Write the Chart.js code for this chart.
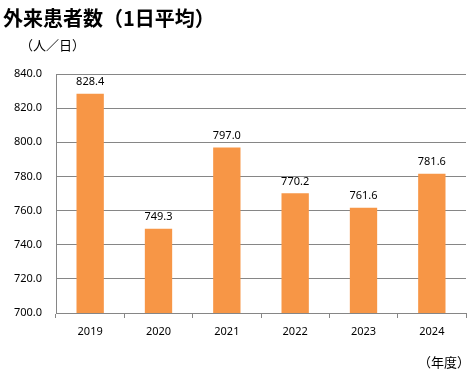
<!DOCTYPE html>
<html>
<head>
<meta charset="utf-8">
<script src="https://cdn.jsdelivr.net/npm/chart.js@4"></script>
<style>
  body { margin: 0; background: #fff; }
  #wrap { position: relative; width: 474px; height: 378px; }
  #titulo { position: absolute; left: 3px; top: 3px; font: bold 20px "Noto Sans CJK JP", sans-serif; color: #000; }
  #unidad { position: absolute; left: 20px; top: 35px; font: 13px "Noto Sans CJK JP", sans-serif; color: #000; }
  #anio { position: absolute; left: 418px; top: 352px; font: 13px "Noto Sans CJK JP", sans-serif; color: #000; }
</style>
</head>
<body>
<div id="wrap">
  <canvas id="grafico" width="474" height="378"></canvas>
  <div id="titulo">外来患者数（1日平均）</div>
  <div id="unidad">（人／日）</div>
  <div id="anio">（年度）</div>
</div>
<script>
const anios = ['2019', '2020', '2021', '2022', '2023', '2024'];
const pacientes = [828.4, 749.3, 797.0, 770.2, 761.6, 781.6];
const yMin = 700;
const yMax = 840;
const yPaso = 20;

// etiquetas encima de cada barra
const etiquetasValor = {
    id: 'etiquetasValor',
    afterDatasetsDraw(chart) {
        const ctx = chart.ctx;
        const meta = chart.getDatasetMeta(0);
        ctx.save();
        ctx.font = '11px "Noto Sans", sans-serif';
        ctx.fillStyle = '#000';
        ctx.textAlign = 'center';
        ctx.textBaseline = 'bottom';
        meta.data.forEach((bar, i) => {
            ctx.fillText(pacientes[i].toFixed(1), bar.x, bar.y - 6);
        });
        ctx.restore();
    }
};

const ctx = document.getElementById('grafico').getContext('2d');
new Chart(ctx, {
    type: 'bar',
    data: {
        labels: anios,
        datasets: [{
            data: pacientes,
            backgroundColor: '#F79646',
            barPercentage: 0.4,
            categoryPercentage: 1.0
        }]
    },
    options: {
        responsive: false,
        animation: false,
        layout: { padding: { left: 0, right: 8, top: 74, bottom: 35 } },
        scales: {
            y: {
                min: yMin,
                max: yMax,
                ticks: {
                    stepSize: yPaso,
                    padding: 14,
                    color: '#000',
                    font: { family: '"Noto Sans", sans-serif', size: 11 },
                    callback: v => v.toFixed(1)
                },
                grid: { color: '#868686', drawTicks: false },
                border: { color: '#868686' },
                afterFit: scale => { scale.width = 56; }
            },
            x: {
                ticks: {
                    color: '#000',
                    padding: 7,
                    font: { family: '"Noto Sans", sans-serif', size: 11 }
                },
                grid: { drawOnChartArea: false, color: '#868686', tickLength: 5 },
                border: { color: '#868686' },
                afterFit: scale => { scale.height = 30; }
            }
        },
        plugins: {
            legend: { display: false },
            tooltip: { enabled: false }
        }
    },
    plugins: [etiquetasValor]
});
</script>
</body>
</html>
